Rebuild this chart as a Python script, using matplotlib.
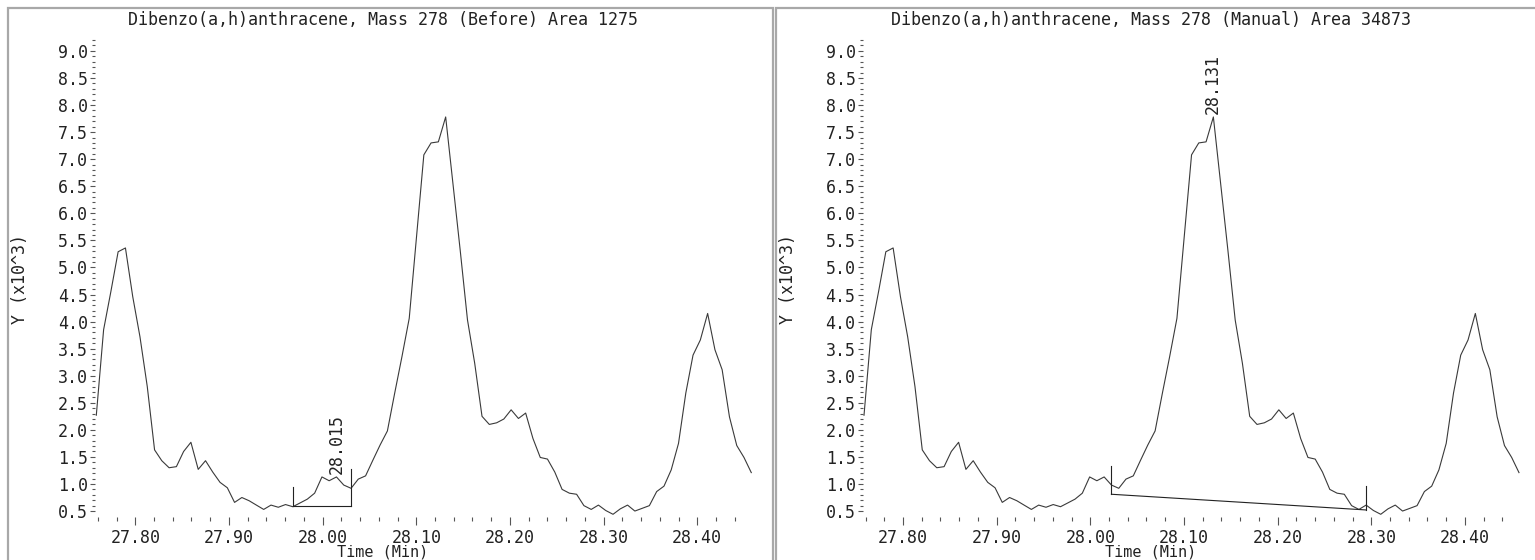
import numpy as np
import matplotlib
matplotlib.use("Agg")
import matplotlib.pyplot as plt
from matplotlib.patches import Rectangle
from matplotlib.ticker import MultipleLocator, FormatStrFormatter

# scan times (min) and abundance (x10^3)
times = [27.7584, 27.7662, 27.7739, 27.7817, 27.7895, 27.7973, 27.8050, 27.8128,
         27.8206, 27.8283, 27.8361, 27.8439, 27.8516, 27.8594, 27.8672, 27.8750,
         27.8827, 27.8905, 27.8983, 27.9060, 27.9138, 27.9216, 27.9293, 27.9371,
         27.9449, 27.9527, 27.9604, 27.9682, 27.9760, 27.9837, 27.9915, 27.9993,
         28.0070, 28.0148, 28.0226, 28.0304, 28.0381, 28.0459, 28.0537, 28.0614,
         28.0692, 28.0770, 28.0847, 28.0925, 28.1003, 28.1081, 28.1158, 28.1236,
         28.1314, 28.1391, 28.1469, 28.1547, 28.1624, 28.1702, 28.1780, 28.1858,
         28.1935, 28.2013, 28.2091, 28.2168, 28.2246, 28.2324, 28.2401, 28.2479,
         28.2557, 28.2635, 28.2712, 28.2790, 28.2868, 28.2945, 28.3023, 28.3101,
         28.3178, 28.3256, 28.3334, 28.3412, 28.3489, 28.3567, 28.3645, 28.3722,
         28.3800, 28.3878, 28.3955, 28.4033, 28.4111, 28.4189, 28.4266, 28.4344,
         28.4422, 28.4499, 28.4577]
signal = [2.27, 3.85, 4.55, 5.29, 5.36, 4.46, 3.72, 2.80,
          1.63, 1.43, 1.30, 1.32, 1.60, 1.77, 1.27, 1.43,
          1.22, 1.03, 0.93, 0.66, 0.75, 0.69, 0.61, 0.53,
          0.61, 0.57, 0.62, 0.58, 0.65, 0.72, 0.83, 1.13,
          1.06, 1.13, 0.98, 0.92, 1.09, 1.15, 1.44, 1.72,
          1.98, 2.68, 3.35, 4.06, 5.57, 7.08, 7.30, 7.32,
          7.78, 6.56, 5.32, 4.03, 3.23, 2.25, 2.10, 2.13,
          2.20, 2.37, 2.21, 2.31, 1.84, 1.49, 1.46, 1.22,
          0.90, 0.83, 0.81, 0.60, 0.53, 0.61, 0.51, 0.44,
          0.54, 0.61, 0.50, 0.55, 0.60, 0.86, 0.96, 1.26,
          1.75, 2.68, 3.38, 3.66, 4.15, 3.48, 3.11, 2.24,
          1.71, 1.49, 1.21]

titles = ["Dibenzo(a,h)anthracene, Mass 278 (Before) Area 1275",
          "Dibenzo(a,h)anthracene, Mass 278 (Manual) Area 34873"]
peak_rt = [28.015, 28.131]
base_t = [[27.9682, 28.0304], [28.0226, 28.2945]]
base_v = [[0.60, 0.60], [0.81, 0.52]]

W, H = 1535, 560
FONT = "DejaVu Sans Mono"
LINE = "#3a3a3a"
FRAME = "#a8a8a8"

fig = plt.figure(figsize=(W / 100, H / 100), dpi=100)

# pixel boxes for the two panels: (axes left, frame left, frame right, title centre)
panels = [(95, 8, 773, 383), (862.7, 776, 1541, 1151)]

for i, (ax_left, fr_l, fr_r, tc) in enumerate(panels):
    fig.add_artist(Rectangle((fr_l / W, -0.02), (fr_r - fr_l) / W, (H - 8) / H + 0.02,
                             transform=fig.transFigure, fill=False,
                             edgecolor=FRAME, lw=1.6))

    ax = fig.add_axes([ax_left / W, (H - 517) / H, 657.5 / W, 478 / H])
    ax.plot(times, signal, color=LINE, lw=0.8)

    # integration baseline with start/end markers
    ax.plot(base_t[i], base_v[i], color="#222222", lw=0.8)
    for t, v in zip(base_t[i], base_v[i]):
        top = np.interp(t, times, signal) + 0.36
        ax.plot([t, t], [v, top], color="#222222", lw=0.8)

    pk = np.interp(peak_rt[i], times, signal)
    pk = max(pk, signal[int(np.argmin(np.abs(np.array(times) - peak_rt[i])))])
    ax.annotate(f"{peak_rt[i]:.3f}", xy=(peak_rt[i], pk), xytext=(0, 3),
                textcoords="offset pixels", rotation=90, ha="center", va="bottom",
                fontsize=12, family=FONT, color="#222222")

    ax.set_xlim(27.757, 28.459)
    ax.set_ylim(0.39, 9.22)
    for s in ax.spines.values():
        s.set_visible(False)

    ax.xaxis.set_major_locator(MultipleLocator(0.1))
    ax.xaxis.set_minor_locator(MultipleLocator(0.02))
    ax.xaxis.set_major_formatter(FormatStrFormatter("%.2f"))
    ax.yaxis.set_major_formatter(FormatStrFormatter("%.1f"))
    ax.set_yticks(np.arange(0.5, 9.01, 0.5))
    ax.set_yticks(np.arange(0.5, 9.21, 0.1), minor=True)

    ax.tick_params(axis="x", which="major", length=5.8, width=0.8, pad=2.5,
                   color="#555555", labelsize=12, labelcolor="#222222")
    ax.tick_params(axis="x", which="minor", length=2.9, width=0.8, color="#555555")
    ax.tick_params(axis="y", which="major", length=3.6, width=0.8, pad=1.5,
                   color="#555555", labelsize=12, labelcolor="#222222")
    ax.tick_params(axis="y", which="minor", length=2.5, width=0.8, color="#555555")
    for lab in ax.get_xticklabels() + ax.get_yticklabels():
        lab.set_family(FONT)

    fig.text(tc / W, (H - 20) / H, titles[i], ha="center", va="center",
             fontsize=12, family=FONT, color="#222222")
    fig.text(tc / W, (H - 552) / H, "Time (Min)", ha="center", va="center",
             fontsize=11, family=FONT, color="#222222")
    fig.text((fr_l + 12) / W, (H - 279) / H, "Y (x10^3)", rotation=90,
             ha="center", va="center", fontsize=12, family=FONT, color="#222222")

fig.savefig("out.png", dpi=100)
